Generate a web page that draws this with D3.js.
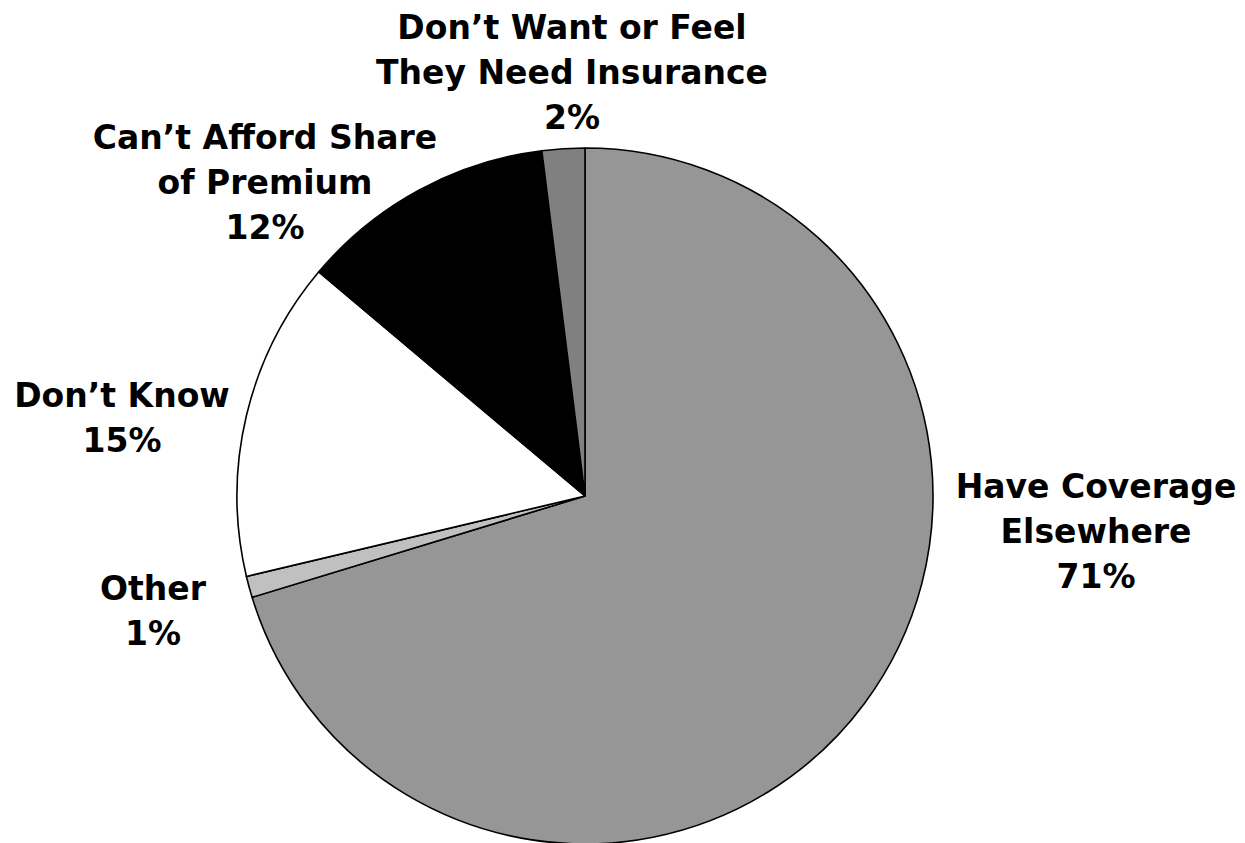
<!DOCTYPE html>
<html>
<head>
<meta charset="utf-8">
<script src="https://cdn.jsdelivr.net/npm/d3@7"></script>
<style>
  html, body { margin: 0; padding: 0; background: #fff; }
  svg { display: block; }
  .lbl { font-family: "DejaVu Sans", sans-serif; font-weight: bold; font-size: 33px; fill: #000; }
</style>
</head>
<body>
<svg id="chart" width="1245" height="843"></svg>
<script>
// Reasons for not enrolling, clockwise from 12 o'clock
const categories = [
  "Have Coverage Elsewhere",
  "Other",
  "Don\u2019t Know",
  "Can\u2019t Afford Share of Premium",
  "Don\u2019t Want or Feel They Need Insurance"
];
const values = [71, 1, 15, 12, 2];
const sliceColors = ["#969696", "#c0c0c0", "#ffffff", "#000000", "#808080"];
// Label text broken into lines
const labelLines = [
  ["Have Coverage", "Elsewhere", "71%"],
  ["Other", "1%"],
  ["Don\u2019t Know", "15%"],
  ["Can\u2019t Afford Share", "of Premium", "12%"],
  ["Don\u2019t Want or Feel", "They Need Insurance", "2%"]
];
// Label anchors (centre x, first baseline y)
const labelPos = [
  [1096, 498],
  [153, 600],
  [122, 407],
  [265, 149],
  [572, 39]
];

const svg = d3.select("#chart");
const cx = 585, cy = 496, radius = 348;
const lineGap = 45;

const pie = d3.pie().sort(null).value(d => d)(values);
const arc = d3.arc().innerRadius(0).outerRadius(radius);
const color = d3.scaleOrdinal().domain(categories).range(sliceColors);

const g = svg.append("g").attr("transform", `translate(${cx},${cy})`);
g.selectAll("path")
  .data(pie)
  .join("path")
  .attr("d", arc)
  .attr("fill", (d, i) => color(categories[i]))
  .attr("stroke", "#000")
  .attr("stroke-width", 1.6)
  .attr("stroke-linejoin", "round");

const labels = svg.selectAll("text.lbl")
  .data(categories)
  .join("text")
  .attr("class", "lbl")
  .attr("text-anchor", "middle");

labels.each(function(d, i) {
  const t = d3.select(this);
  labelLines[i].forEach((line, j) => {
    t.append("tspan")
      .attr("x", labelPos[i][0])
      .attr("y", labelPos[i][1] + j * lineGap)
      .text(line);
  });
});
</script>
</body>
</html>
